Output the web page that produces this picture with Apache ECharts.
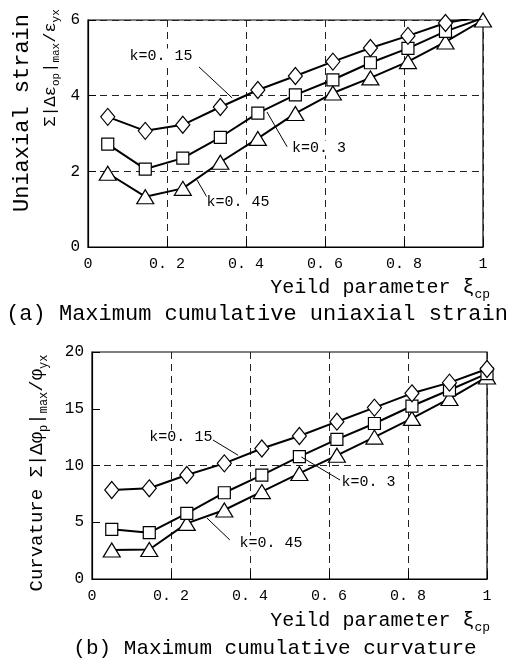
<!DOCTYPE html>
<html>
<head>
<meta charset="utf-8">
<script src="https://cdn.jsdelivr.net/npm/echarts@6/dist/echarts.min.js"></script>
<style>
  html, body { margin: 0; padding: 0; background: #fff; }
  #chart { width: 514px; height: 663px; }
</style>
</head>
<body>
<div id="chart"></div>
<script>
// Yield parameter positions (same for every curve)
const xVals = [0.05, 0.145, 0.24, 0.335, 0.43, 0.525, 0.62, 0.715, 0.81, 0.905, 1.0];

// (a) cumulative uniaxial strain
const strainK015 = [3.44, 3.07, 3.23, 3.70, 4.15, 4.52, 4.90, 5.26, 5.58, 5.92, 6.10];
const strainK03  = [2.72, 2.06, 2.35, 2.90, 3.54, 4.02, 4.42, 4.87, 5.25, 5.70, 6.05];
const strainK045 = [1.95, 1.33, 1.55, 2.24, 2.87, 3.53, 4.07, 4.47, 4.90, 5.42, 6.00];

// (b) cumulative curvature
const curvK015 = [7.84, 7.99, 9.16, 10.19, 11.5, 12.6, 13.86, 15.1, 16.36, 17.3, 18.5];
const curvK03  = [4.38, 4.08, 5.78, 7.6, 9.16, 10.78, 12.3, 13.7, 15.24, 16.65, 18.1];
const curvK045 = [2.55, 2.6, 4.9, 6.08, 7.7, 9.3, 10.9, 12.5, 14.15, 15.9, 17.8];

const xTickLabels = ['0', '0. 2', '0. 4', '0. 6', '0. 8', '1'];
const seriesNames = ['k=0. 15', 'k=0. 3', 'k=0. 45'];

// annotation label/leader positions in data coordinates: [text, leaderStart, leaderEnd]
const strainNotes = [
    [[0.185, 5.05], [0.281, 4.76], [0.365, 3.94]],
    [[0.585, 2.62], [0.453, 3.57], [0.504, 2.65]],
    [[0.38, 1.19], [0.276, 1.77], [0.301, 1.32]]
];
const curvNotes = [
    [[0.225, 12.5], [0.306, 12.25], [0.37, 10.9]],
    [[0.70, 8.55], [0.53, 10.75], [0.628, 8.72]],
    [[0.453, 3.17], [0.291, 5.37], [0.349, 3.44]]
];

const FONT = '"Liberation Mono", "DejaVu Sans Mono", monospace';
const symbols = [['diamond', [14, 17]], ['rect', [12, 12]], ['triangle', [17, 14]]];

function pairs(ys) {
    return xVals.map((x, i) => [x, ys[i]]);
}

function makeSeries(list, idx) {
    return list.map((ys, i) => ({
        name: seriesNames[i],
        type: 'line',
        xAxisIndex: idx,
        yAxisIndex: idx,
        data: pairs(ys),
        symbol: symbols[i][0],
        symbolSize: symbols[i][1],
        showAllSymbol: true,
        lineStyle: { color: '#000', width: 2 },
        itemStyle: { color: '#fff', borderColor: '#000', borderWidth: 1.2 },
        z: 3 - i
    }));
}

const dash = [7, 5];

function xAxisOpt(gridIndex) {
    return {
        type: 'value', gridIndex: gridIndex, min: 0, max: 1, interval: 0.2,
        axisLine: { lineStyle: { color: '#000', width: 1.2 } },
        axisTick: { inside: true, length: 8, lineStyle: { color: '#000' } },
        axisLabel: {
            color: '#000', fontFamily: FONT, fontSize: 15, margin: 10,
            formatter: (v) => xTickLabels[Math.round(v / 0.2)]
        },
        splitLine: { show: true, lineStyle: { color: '#222', type: dash, width: 1 } }
    };
}

function yAxisOpt(gridIndex, max, interval, splitColors) {
    return {
        type: 'value', gridIndex: gridIndex, min: 0, max: max, interval: interval,
        axisLine: { lineStyle: { color: '#000', width: 1.2 } },
        axisTick: { inside: true, length: 8, lineStyle: { color: '#000' } },
        axisLabel: { color: '#000', fontFamily: FONT, fontSize: 16, margin: 8 },
        splitLine: { show: true, lineStyle: { color: splitColors, type: dash, width: 1 } }
    };
}

const chart = echarts.init(document.getElementById('chart'));

chart.setOption({
    backgroundColor: '#fff',
    animation: false,
    grid: [
        { left: 88, top: 20, width: 395, height: 227, show: true, borderColor: '#000', borderWidth: 1.2 },
        { left: 92, top: 352, width: 395, height: 227, show: true, borderColor: '#000', borderWidth: 1.2 }
    ],
    xAxis: [xAxisOpt(0), xAxisOpt(1)],
    yAxis: [
        yAxisOpt(0, 6, 2, '#222'),
        yAxisOpt(1, 20, 5, ['transparent', 'transparent', '#222', 'transparent', 'transparent'])
    ],
    series: makeSeries([strainK015, strainK03, strainK045], 0)
        .concat(makeSeries([curvK015, curvK03, curvK045], 1))
});

// annotations and titles
const rich = {
    m: { fontFamily: FONT, fontSize: 17, color: '#000', verticalAlign: 'middle', lineHeight: 24 },
    s: { fontFamily: FONT, fontSize: 11, color: '#000', verticalAlign: 'bottom', lineHeight: 24 }
};
const richBig = {
    m: { fontFamily: FONT, fontSize: 20, color: '#000', verticalAlign: 'middle', lineHeight: 26 },
    s: { fontFamily: FONT, fontSize: 13, color: '#000', verticalAlign: 'bottom', lineHeight: 26 }
};

const graphics = [];
function addNotes(notes, gridIndex) {
    notes.forEach((n, i) => {
        const t = chart.convertToPixel({ gridIndex: gridIndex }, n[0]);
        const a = chart.convertToPixel({ gridIndex: gridIndex }, n[1]);
        const b = chart.convertToPixel({ gridIndex: gridIndex }, n[2]);
        graphics.push({
            type: 'line', shape: { x1: a[0], y1: a[1], x2: b[0], y2: b[1] },
            style: { stroke: '#000', lineWidth: 1 }, z: 10
        });
        graphics.push({
            type: 'text', x: t[0], y: t[1], z: 10,
            style: { text: seriesNames[i], font: '15px ' + FONT, fill: '#000', align: 'center', verticalAlign: 'middle', backgroundColor: '#fff' }
        });
    });
}
addNotes(strainNotes, 0);
addNotes(curvNotes, 1);

// x axis names
[[490, 288], [490, 621]].forEach(p => {
    graphics.push({
        type: 'text', x: p[0], y: p[1],
        style: { text: '{m|Yeild parameter ξ}{s|cp}', rich: richBig, align: 'right', verticalAlign: 'middle' }
    });
});

// captions
graphics.push({
    type: 'text', x: 257, y: 314,
    style: { text: '(a) Maximum cumulative uniaxial strain', font: '22px ' + FONT, fill: '#000', align: 'center', verticalAlign: 'middle' }
});
graphics.push({
    type: 'text', x: 275, y: 648,
    style: { text: '(b) Maximum cumulative curvature', font: '21px ' + FONT, fill: '#000', align: 'center', verticalAlign: 'middle' }
});

// y axis titles (rotated)
graphics.push({
    type: 'text', x: 22, y: 113, rotation: Math.PI / 2,
    style: { text: 'Uniaxial strain', font: '22px ' + FONT, fill: '#000', align: 'center', verticalAlign: 'middle' }
});
graphics.push({
    type: 'text', x: 50, y: 68, rotation: Math.PI / 2,
    style: { text: '{m|Σ|Δε}{s|op}{m||}{s|max}{m|/ε}{s|yx}', rich: rich, align: 'center', verticalAlign: 'middle' }
});
graphics.push({
    type: 'text', x: 37, y: 473, rotation: Math.PI / 2,
    style: {
        text: '{m|Curvature Σ|Δφ}{s|p}{m||}{s|max}{m|/φ}{s|yx}',
        rich: {
            m: { fontFamily: FONT, fontSize: 19, color: '#000', verticalAlign: 'middle', lineHeight: 26 },
            s: { fontFamily: FONT, fontSize: 12, color: '#000', verticalAlign: 'bottom', lineHeight: 26 }
        },
        align: 'center', verticalAlign: 'middle'
    }
});

chart.setOption({ graphic: graphics });
</script>
</body>
</html>
